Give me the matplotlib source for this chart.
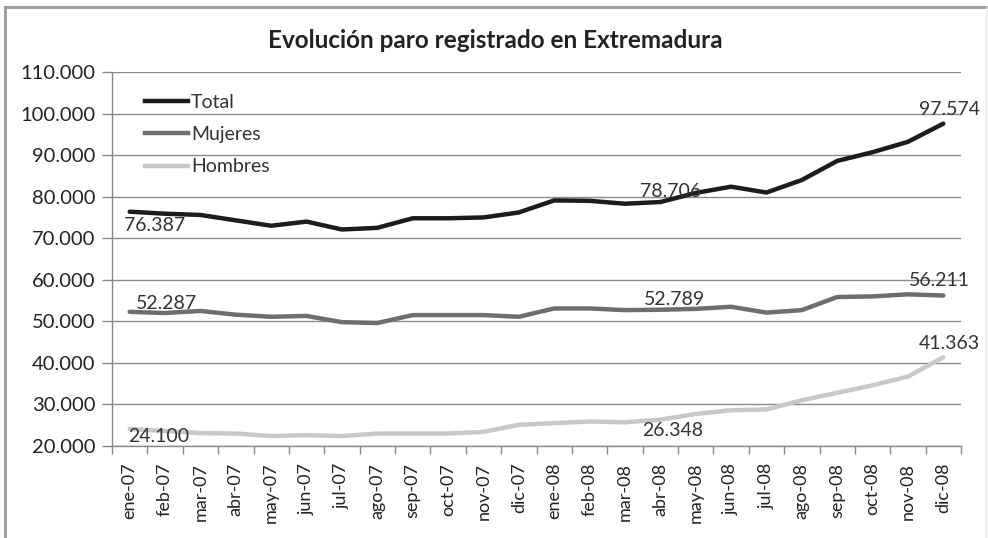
import matplotlib
matplotlib.use("Agg")
import matplotlib.pyplot as plt
from matplotlib.lines import Line2D

months = ["ene-07", "feb-07", "mar-07", "abr-07", "may-07", "jun-07", "jul-07", "ago-07",
          "sep-07", "oct-07", "nov-07", "dic-07", "ene-08", "feb-08", "mar-08", "abr-08",
          "may-08", "jun-08", "jul-08", "ago-08", "sep-08", "oct-08", "nov-08", "dic-08"]
total = [76387, 75900, 75600, 74300, 73000, 74000, 72100, 72500, 74800, 74800, 75000, 76200,
         79100, 79000, 78300, 78706, 80900, 82400, 81000, 84000, 88600, 90700, 93200, 97574]
mujeres = [52287, 52000, 52500, 51600, 51100, 51300, 49800, 49600, 51500, 51500, 51500, 51100,
           53100, 53100, 52700, 52789, 53000, 53500, 52100, 52700, 55850, 56000, 56500, 56211]
hombres = [24100, 23600, 23100, 23000, 22400, 22600, 22400, 23000, 23000, 23000, 23400, 25100,
           25500, 25900, 25700, 26348, 27700, 28600, 28800, 31000, 32800, 34600, 36700, 41363]
yticks = [20000, 30000, 40000, 50000, 60000, 70000, 80000, 90000, 100000, 110000]

FONT = ["Lato", "DejaVu Sans"]
plt.rcParams["font.family"] = FONT

def fmt(v):
    return f"{v:,}".replace(",", ".")

fig = plt.figure(figsize=(9.88, 5.38), dpi=100)
ax = fig.add_axes([112/988, 1-446/538, (961-112)/988, (446-72)/538])

x = list(range(len(months)))
c_total, c_muj, c_hom = "#1c1c1c", "#6e6e6e", "#c8c8c8"
ax.plot(x, hombres, color=c_hom, lw=3.2, solid_capstyle="round", zorder=3)
ax.plot(x, mujeres, color=c_muj, lw=3.2, solid_capstyle="round", zorder=3)
ax.plot(x, total, color=c_total, lw=3.2, solid_capstyle="round", zorder=3)

ax.set_xlim(-0.5, len(months) - 0.5)
ax.set_ylim(20000, 110000)
ax.set_yticks(yticks)
ax.set_yticklabels([fmt(v) for v in yticks], fontsize=14.5, color="#222222")
ax.set_xticks(x)
ax.set_xticklabels(months, rotation=90, fontsize=13, color="#222222")
ax.set_xticks([i - 0.5 for i in range(len(months) + 1)], minor=True)
ax.tick_params(axis="x", which="major", length=0, pad=12)
ax.tick_params(axis="x", which="minor", length=6, color="#888888", width=1)
ax.tick_params(axis="y", length=7, color="#888888", width=1, pad=5)

ax.grid(axis="y", color="#8c8c8c", lw=1)
ax.set_axisbelow(True)
for s in ["top", "right"]:
    ax.spines[s].set_visible(False)
for s in ["left", "bottom"]:
    ax.spines[s].set_color("#888888")
    ax.spines[s].set_linewidth(1)

lab = dict(fontsize=14, color="#333333", zorder=5, clip_on=False)
ax.text(-0.15, total[0] - 3300, fmt(total[0]), ha="left", va="center", **lab)
ax.text(0.17, mujeres[0] + 2100, fmt(mujeres[0]), ha="left", va="center", **lab)
ax.text(-0.05, hombres[0] - 1700, fmt(hombres[0]), ha="left", va="center", **lab)
ax.text(15.3, total[15] + 2600, fmt(total[15]), ha="center", va="center", **lab)
ax.text(15.4, mujeres[15] + 2500, fmt(mujeres[15]), ha="center", va="center", **lab)
ax.text(15.35, hombres[15] - 2600, fmt(hombres[15]), ha="center", va="center", **lab)
ax.text(23.18, total[23] + 3400, fmt(total[23]), ha="center", va="center", **lab)
ax.text(22.9, mujeres[23] + 3600, fmt(mujeres[23]), ha="center", va="center", **lab)
ax.text(23.18, hombres[23] + 3400, fmt(hombres[23]), ha="center", va="center", **lab)

handles = [Line2D([], [], color=c_total, lw=3.2),
           Line2D([], [], color=c_muj, lw=3.2),
           Line2D([], [], color=c_hom, lw=3.2)]
leg = ax.legend(handles, ["Total", "Mujeres", "Hombres"], loc="upper left",
                bbox_to_anchor=(0.03, 0.962), frameon=False, fontsize=14,
                handlelength=2.2, handletextpad=0.15, labelspacing=0.78,
                borderaxespad=0)
for t in leg.get_texts():
    t.set_color("#333333")

fig.text(495/988, 1-41/538, "Evolución paro registrado en Extremadura",
         ha="center", va="center", fontsize=17.5, fontweight="bold", color="#222222")

fig.add_artist(Line2D([5/988, 5/988], [0, 1-7/538], transform=fig.transFigure,
                      color="#999999", lw=2))
fig.add_artist(Line2D([5/988, 1], [1-7/538, 1-7/538], transform=fig.transFigure,
                      color="#999999", lw=2))
fig.add_artist(Line2D([986/988, 986/988], [0, 1-7/538], transform=fig.transFigure,
                      color="#e6e6e6", lw=1))

fig.savefig("out.png", dpi=100)
